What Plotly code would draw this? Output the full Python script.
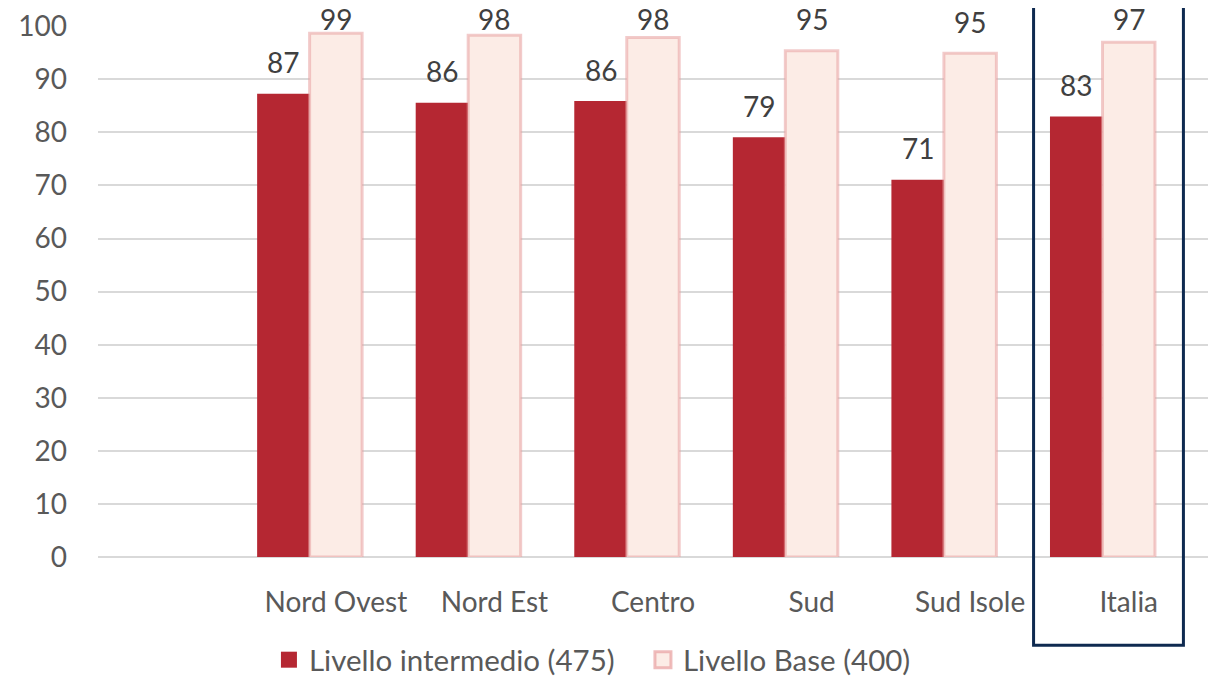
import plotly.graph_objects as go

categories = ["", "Nord Ovest", "Nord Est", "Centro", "Sud", "Sud Isole", "Italia"]
intermedio = [None, 87.3, 85.6, 85.9, 79.1, 71.1, 83.0]
base = [None, 98.7, 98.3, 97.9, 95.4, 94.9, 97.0]
spacer = [None] * len(categories)
y_ticks = [0, 10, 20, 30, 40, 50, 60, 70, 80, 90, 100]

FONT = "Lato"
TXT = "#404040"
AX = "#595959"
RED = "#B52732"
PINK = "#FCECE6"
PINK_LINE = "rgba(232,160,160,0.55)"
FS = 28
BARGAP = 0.007

fig = go.Figure()
fig.add_trace(go.Bar(x=categories, y=intermedio, name="Livello intermedio (475)",
                     marker=dict(color=RED, line=dict(width=0)), showlegend=False))
fig.add_trace(go.Bar(x=categories, y=base, name="Livello Base (400)",
                     marker=dict(color=PINK, line=dict(width=3, color=PINK_LINE)), showlegend=False))
fig.add_trace(go.Bar(x=categories, y=spacer, showlegend=False, hoverinfo="skip"))

# legend entries
fig.add_trace(go.Scatter(x=[None], y=[None], mode="markers", name="Livello intermedio (475)",
                         marker=dict(symbol="square", size=18, color=RED)))
fig.add_trace(go.Scatter(x=[None], y=[None], mode="markers", name="Livello Base (400)",
                         marker=dict(symbol="square", size=17, color=PINK,
                                     line=dict(width=3, color="rgba(232,160,160,0.7)"))))

# data labels (Excel-like: above bars, kept inside the chart top)
slot = (1 - BARGAP) / 3
for series, off in ((intermedio, -slot), (base, 0.0)):
    for i, v in enumerate(series):
        if v is None:
            continue
        fig.add_annotation(x=i + off, y=min(v + 2.3, 97.8), xref="x", yref="y",
                           text=f"{v:.0f}", showarrow=False, yanchor="bottom",
                           font=dict(family=FONT, size=FS, color=TXT))

idx = categories.index("Italia")
fig.add_shape(type="rect", xref="x", yref="paper",
              x0=idx - 0.6, x1=idx + 0.345, y0=-0.166, y1=1.1,
              line=dict(color="#0E2A50", width=3), fillcolor="rgba(0,0,0,0)", layer="above")

fig.update_layout(
    width=1218, height=676,
    margin=dict(l=90, r=18, t=18, b=127, autoexpand=False),
    plot_bgcolor="white", paper_bgcolor="white",
    barmode="group", bargap=BARGAP, bargroupgap=0,
    font=dict(family=FONT, size=FS, color=AX),
    showlegend=True,
    legend=dict(orientation="h", x=0.154, y=-0.194, xanchor="left", yanchor="middle",
                font=dict(family=FONT, size=29.5, color=AX), itemwidth=30,
                entrywidth=329, traceorder="normal"),
    xaxis=dict(showgrid=False, showline=False, ticks="", tickfont=dict(size=FS, color=AX),
               ticklabelstandoff=26, automargin=False),
    yaxis=dict(range=[0, 100.05], tickvals=y_ticks, showgrid=True, gridcolor="#D9D9D9", gridwidth=2,
               zeroline=True, zerolinecolor="#D9D9D9", zerolinewidth=2, showline=False,
               ticks="", tickfont=dict(size=FS, color=AX), ticklabelstandoff=30,
               ticklabeloverflow="allow", automargin=False),
)

fig.write_html("out.html")
